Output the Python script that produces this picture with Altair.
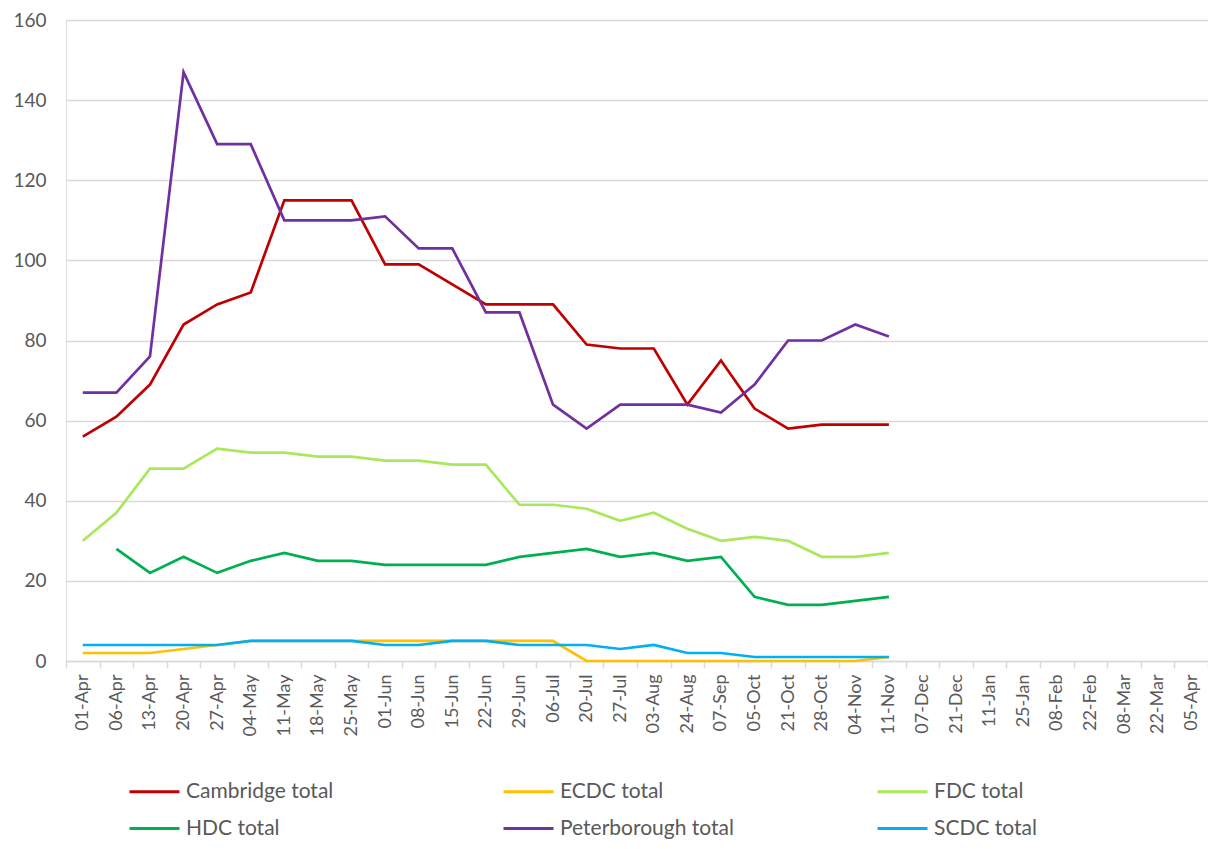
import altair as alt
import pandas as pd

categories = ["01-Apr", "06-Apr", "13-Apr", "20-Apr", "27-Apr", "04-May", "11-May", "18-May",
              "25-May", "01-Jun", "08-Jun", "15-Jun", "22-Jun", "29-Jun", "06-Jul", "20-Jul",
              "27-Jul", "03-Aug", "24-Aug", "07-Sep", "05-Oct", "21-Oct", "28-Oct", "04-Nov",
              "11-Nov", "07-Dec", "21-Dec", "11-Jan", "25-Jan", "08-Feb", "22-Feb", "08-Mar",
              "22-Mar", "05-Apr"]

cambridge = [56, 61, 69, 84, 89, 92, 115, 115, 115, 99, 99, 94, 89, 89, 89, 79, 78, 78, 64, 75, 63, 58, 59, 59, 59]
ecdc = [2, 2, 2, 3, 4, 5, 5, 5, 5, 5, 5, 5, 5, 5, 5, 0, 0, 0, 0, 0, 0, 0, 0, 0, 1]
fdc = [30, 37, 48, 48, 53, 52, 52, 51, 51, 50, 50, 49, 49, 39, 39, 38, 35, 37, 33, 30, 31, 30, 26, 26, 27]
hdc = [None, 28, 22, 26, 22, 25, 27, 25, 25, 24, 24, 24, 24, 26, 27, 28, 26, 27, 25, 26, 16, 14, 14, 15, 16]
peterborough = [67, 67, 76, 147, 129, 129, 110, 110, 110, 111, 103, 103, 87, 87, 64, 58, 64, 64, 64, 62, 69, 80, 80, 84, 81]
scdc = [4, 4, 4, 4, 4, 5, 5, 5, 5, 4, 4, 5, 5, 4, 4, 4, 3, 4, 2, 2, 1, 1, 1, 1, 1]

series_names = ["Cambridge total", "ECDC total", "FDC total", "HDC total", "Peterborough total", "SCDC total"]
series_values = [cambridge, ecdc, fdc, hdc, peterborough, scdc]
series_colors = ["#C00000", "#FFC000", "#A9E85A", "#00B050", "#7030A0", "#00B0F0"]

rows = []
for name, vals in zip(series_names, series_values):
    for i, v in enumerate(vals):
        rows.append({"date": categories[i], "series": name, "value": v, "order": i})
df = pd.DataFrame(rows)

FONT = "Lato"
GREY_TXT = "#595959"

chart = alt.Chart(df).mark_line(strokeWidth=2.7, strokeJoin="miter").encode(
    x=alt.X("date:N", sort=categories, scale=alt.Scale(domain=categories, paddingInner=0, paddingOuter=0),
            axis=alt.Axis(title=None, labelAngle=-90, labelFontSize=18, labelColor=GREY_TXT,
                          labelFont=FONT, domainColor="#D9D9D9", domainWidth=1.5, tickColor="#D9D9D9",
                          tickWidth=1.5, tickSize=7, tickBand="extent", labelPadding=6, grid=False)),
    y=alt.Y("value:Q", scale=alt.Scale(domain=[0, 160]),
            axis=alt.Axis(title=None, values=[0, 20, 40, 60, 80, 100, 120, 140, 160], labelFontSize=19,
                          labelColor=GREY_TXT, labelFont=FONT, domain=False, ticks=False,
                          gridColor="#D9D9D9", gridWidth=1.5, labelPadding=20)),
    color=alt.Color("series:N", scale=alt.Scale(domain=series_names, range=series_colors),
                    legend=alt.Legend(title=None, orient="none", legendX=62, legendY=745,
                                      columns=3, direction="horizontal", symbolType="stroke",
                                      symbolSize=2500, symbolStrokeWidth=3, labelFontSize=21,
                                      labelFont=FONT, labelColor=GREY_TXT, labelOffset=5,
                                      gridAlign="all", columnPadding=137, rowPadding=-8,
                                      labelLimit=300)),
    order=alt.Order("order:Q"),
).properties(
    width=1142, height=641,
    autosize=alt.AutoSizeParams(type="none"),
    padding={"left": 58, "top": 12, "right": 0, "bottom": 180},
).configure_view(stroke=None).configure(background="white")

chart.save("out.html", embed_options={"renderer": "svg", "actions": False})
